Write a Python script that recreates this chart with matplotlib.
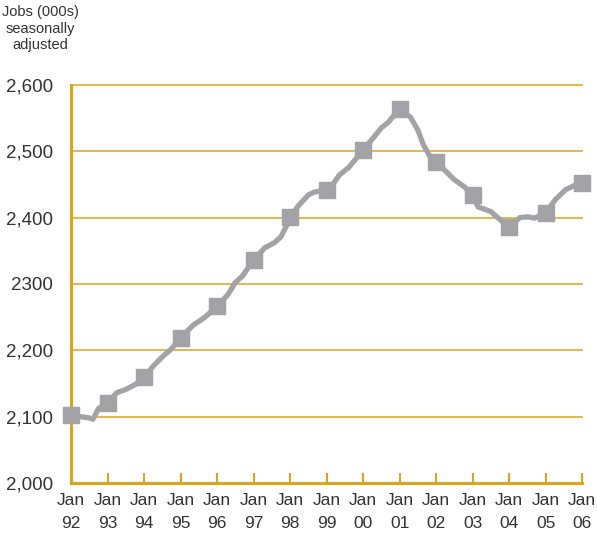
import matplotlib
matplotlib.use("Agg")
import matplotlib.pyplot as plt

plt.rcParams['font.family'] = ['Liberation Sans', 'DejaVu Sans']

# Jobs (000s); x is year as a decimal
years = [1992.0, 1992.25, 1992.5, 1992.6, 1992.75, 1993.0, 1993.25, 1993.5, 1993.75,
         1994.0, 1994.25, 1994.5, 1994.75, 1995.0, 1995.35, 1995.65, 1996.0,
         1996.3, 1996.5, 1996.7, 1997.0, 1997.3, 1997.57, 1997.75, 1997.92,
         1998.0, 1998.25, 1998.5, 1998.65, 1999.0, 1999.2, 1999.35, 1999.6,
         1999.83, 2000.0, 2000.28, 2000.5, 2000.7, 2001.0, 2001.3, 2001.5,
         2001.65, 2001.85, 2002.0, 2002.28, 2002.5, 2002.78, 2003.0, 2003.15,
         2003.5, 2003.75, 2004.0, 2004.3, 2004.52, 2004.7, 2004.85, 2005.0,
         2005.27, 2005.55, 2005.82, 2006.0]
jobs = [2102, 2100, 2098, 2096, 2112, 2121, 2136, 2141, 2148,
        2159, 2176, 2190, 2202, 2219, 2238, 2249, 2266,
        2284, 2302, 2312, 2336, 2354, 2362, 2371, 2389,
        2401, 2419, 2434, 2438, 2442, 2452, 2464, 2475,
        2490, 2502, 2520, 2535, 2544, 2564, 2551, 2532,
        2510, 2490, 2484, 2469, 2457, 2446, 2434, 2416,
        2409, 2397, 2386, 2400, 2401, 2399, 2403, 2407,
        2427, 2442, 2449, 2452]

# January markers
jan_years = list(range(1992, 2007))
jan_jobs = [2102, 2121, 2159, 2219, 2266, 2336, 2401, 2442, 2502, 2564,
            2484, 2434, 2386, 2407, 2452]

y_ticks = [2000, 2100, 2200, 2300, 2400, 2500, 2600]
y_labels = ['2,000', '2,100', '2,200', '2300', '2,400', '2,500', '2,600']
x_labels = ['Jan\n%02d' % (y % 100) for y in jan_years]

gold = '#DCA31C'
grid_gold = '#E3B23A'
grey = '#A3A3A7'

fig = plt.figure(figsize=(5.97, 5.40), dpi=100)
ax = fig.add_axes([0.119, 0.1056, 0.856, 0.7374])

ax.plot(years, jobs, color=grey, lw=3.8, solid_capstyle='round',
        solid_joinstyle='round', clip_on=False, zorder=3)
ax.plot(jan_years, jan_jobs, 's', color=grey, markersize=11.5, clip_on=False, zorder=4)

ax.set_xlim(1992, 2006)
ax.set_ylim(2000, 2600)

for v in y_ticks[1:]:
    ax.axhline(v, color=grid_gold, lw=1.3, zorder=1, clip_on=False)

ax.spines['top'].set_visible(False)
ax.spines['right'].set_visible(False)
ax.spines['left'].set_color(gold)
ax.spines['bottom'].set_color(gold)
ax.spines['left'].set_linewidth(2.2)
ax.spines['bottom'].set_linewidth(2.2)

ax.set_yticks(y_ticks)
ax.set_yticklabels(y_labels, fontsize=13.5, color='#333333')
ax.tick_params(axis='y', length=0, pad=13)
ax.set_xticks(jan_years)
ax.set_xticklabels(x_labels, fontsize=12.5, color='#333333', linespacing=1.7)
ax.tick_params(axis='x', direction='in', length=7, width=1.5, color=gold, pad=7)

fig.text(0.067, 0.99, 'Jobs (000s)\nseasonally\nadjusted', ha='center', va='top',
         fontsize=10.5, color='#333333', linespacing=1.2)

fig.savefig('out.png', dpi=100)
